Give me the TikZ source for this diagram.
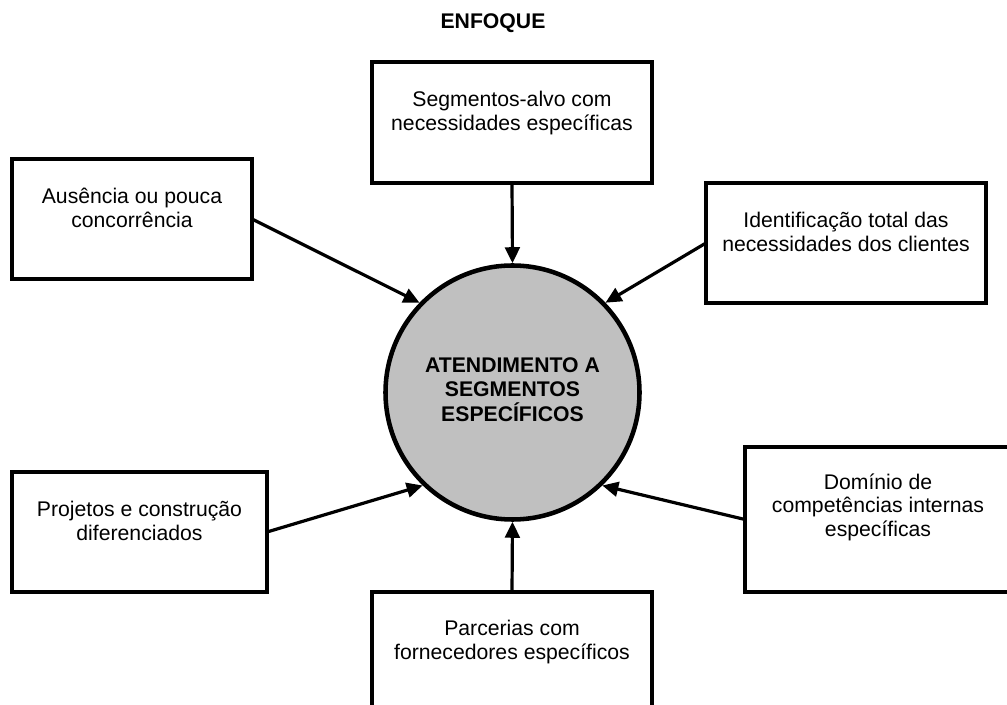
\documentclass[tikz,border=0pt]{standalone}
\usepackage{fontspec}
\setmainfont{Liberation Sans}
\usetikzlibrary{arrows.meta}

\tikzset{
  caixa/.style={draw, line width=2.6pt, inner sep=0pt, outer sep=0pt, align=center,
    font=\fontsize{15.9}{17.8}\selectfont},
  seta/.style={line width=2.4pt, -{Triangle[length=12pt,width=11pt]}}
}

\begin{document}
\begin{tikzpicture}[x=0.75pt,y=0.75pt,yscale=-1,xscale=1]
        \useasboundingbox (0,0) rectangle (1007,705);
        \clip (0,0) rectangle (1007,705);
        % Text Node
        \node [font=\fontsize{15.9}{17.8}\selectfont\bfseries] (titulo) at (493,23) {ENFOQUE};
        %Shape: Circle
        \node [circle, draw, line width=3.4pt, fill={rgb, 255:red, 192; green, 192; blue, 192 }, minimum size=190.5pt, inner sep=0pt, align=center, text depth=4.5pt, font=\fontsize{15.9}{18.4}\selectfont\bfseries] (circ) at (512.5,392.5) {ATENDIMENTO A\\SEGMENTOS\\ESPECÍFICOS};
        %Shape: Rectangle
        \node [caixa, minimum width=210pt, text height=51.2pt, text depth=39.55pt] (seg) at (512,122.5) {Segmentos-alvo com\\necessidades específicas};
        %Shape: Rectangle
        \node [caixa, minimum width=180pt, text height=51.2pt, text depth=38.8pt] (aus) at (132,219) {Ausência ou pouca\\concorrência};
        %Shape: Rectangle
        \node [caixa, minimum width=210pt, text height=51.2pt, text depth=38.8pt] (ident) at (846,243) {Identificação total das\\necessidades dos clientes};
        %Shape: Rectangle
        \node [caixa, minimum width=191.25pt, text height=51.2pt, text depth=38.8pt] (proj) at (139.5,532) {Projetos e construção\\diferenciados};
        %Shape: Rectangle
        \node [caixa, minimum width=199.5pt, text height=67.2pt, text depth=41.55pt] (dom) at (878,519.5) {Domínio de\\competências internas\\específicas};
        %Shape: Rectangle
        \node [caixa, minimum width=210pt, text height=50.4pt, text depth=40.35pt] (parc) at (512,652.5) {Parcerias com\\fornecedores específicos};
        %Straight Lines
        \draw [seta] (seg.south) -- (circ.north);
        \draw [seta] (aus.east) -- (circ.136);
        \draw [seta] (ident.west) -- (circ.44);
        \draw [seta] (proj.east) -- (circ.226);
        \draw [seta] (dom.west) -- (circ.314);
        \draw [seta] (parc.north) -- (circ.south);
    \end{tikzpicture}
\end{document}
